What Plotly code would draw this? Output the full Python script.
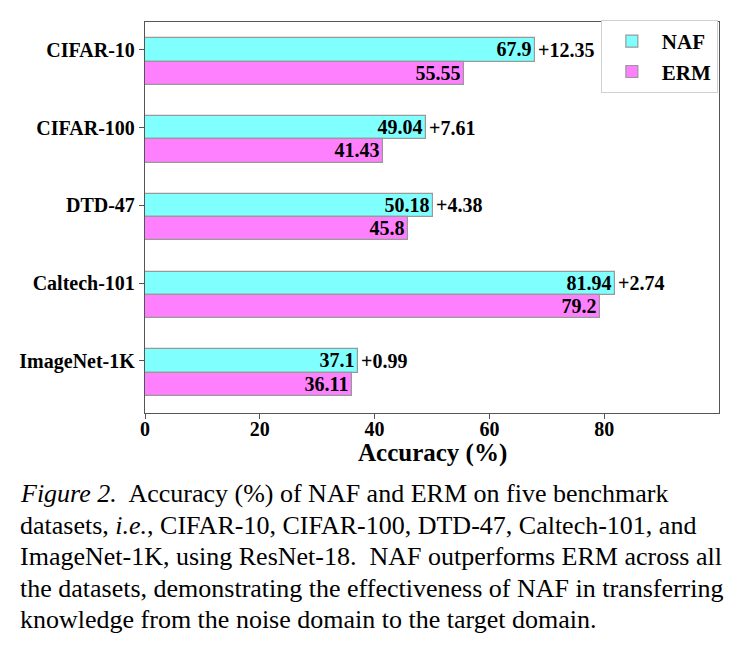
import plotly.graph_objects as go

categories = ["CIFAR-10", "CIFAR-100", "DTD-47", "Caltech-101", "ImageNet-1K"]
naf = [67.9, 49.04, 50.18, 81.94, 37.1]
erm = [55.55, 41.43, 45.8, 79.2, 36.11]
x_ticks = [0, 20, 40, 60, 80]
caption_lines = [
    "<i>Figure 2.</i>  Accuracy (%) of NAF and ERM on five benchmark",
    "datasets, <i>i.e.</i>, CIFAR-10, CIFAR-100, DTD-47, Caltech-101, and",
    "ImageNet-1K, using ResNet-18.  NAF outperforms ERM across all",
    "the datasets, demonstrating the effectiveness of NAF in transferring",
    "knowledge from the noise domain to the target domain.",
]

BAR_H = 0.3
n = len(categories)
pos = [n - 1 - i for i in range(n)]
pos_erm = [p - BAR_H for p in pos]
diffs = [round(a - b, 2) for a, b in zip(naf, erm)]

SERIF = "Liberation Serif"
LBL = dict(family=SERIF, size=20, color="black")
fig = go.Figure()
fig.add_trace(go.Bar(
    y=pos, x=naf, orientation="h", width=BAR_H, name="<b>NAF</b>",
    marker=dict(color="#80FFFF", line=dict(color="#999999", width=1.2)),
    text=[f"<b>{v:g}</b>" for v in naf], textposition="inside",
    insidetextanchor="end", textangle=0, constraintext="none",
    textfont=LBL,
))
fig.add_trace(go.Bar(
    y=pos_erm, x=erm, orientation="h", width=BAR_H, name="<b>ERM</b>",
    marker=dict(color="#FF80FF", line=dict(color="#999999", width=1.2)),
    text=[f"<b>{v:g}</b>" for v in erm], textposition="inside",
    insidetextanchor="end", textangle=0, constraintext="none",
    textfont=LBL,
))

for p, v, d in zip(pos, naf, diffs):
    fig.add_annotation(x=v, y=p, xref="x", yref="y", text=f"<b>+{d:g}</b>",
                       showarrow=False, xanchor="left", yanchor="middle", xshift=1,
                       font=LBL)

plot_left, plot_right = 145, 719
plot_top, plot_bottom = 22, 413
W = plot_right - plot_left
H = plot_bottom - plot_top

fig.add_annotation(x=(432 - plot_left) / W, y=(plot_bottom - 453) / H, xref="paper", yref="paper",
                   text="<b>Accuracy (%)</b>", showarrow=False, xanchor="center", yanchor="middle",
                   font=dict(family=SERIF, size=25, color="black"))

line_y = [493, 525, 556, 588, 619]
for txt, py in zip(caption_lines, line_y):
    fig.add_annotation(x=(18 - plot_left) / W, y=(plot_bottom - py) / H, xref="paper", yref="paper",
                       text=txt, showarrow=False, xanchor="left", yanchor="middle",
                       font=dict(family=SERIF, size=26, color="black"))

fig.update_layout(
    width=738, height=647,
    margin=dict(l=plot_left, r=738 - plot_right, t=plot_top, b=647 - plot_bottom),
    paper_bgcolor="white", plot_bgcolor="white",
    barmode="overlay", bargap=0,
    font=dict(family=SERIF, color="black"),
    showlegend=True,
    legend=dict(x=0.998, y=1.005, xanchor="right", yanchor="top",
                bordercolor="#d0d0d0", borderwidth=1, bgcolor="white",
                font=dict(family=SERIF, size=21, color="black"),
                itemwidth=50, tracegroupgap=2),
    xaxis=dict(range=[0, 100], tickvals=x_ticks, ticktext=[f"<b>{t}</b>" for t in x_ticks],
               ticks="outside", ticklen=5, tickcolor="#555", showgrid=False, zeroline=False,
               showline=True, linecolor="#555", linewidth=1.3, mirror=True,
               ticklabelstandoff=-7,
               tickfont=dict(family=SERIF, size=20, color="black")),
    yaxis=dict(range=[-0.67, 4.36], tickvals=pos, ticktext=[f"<b>{c}</b>" for c in categories],
               ticks="outside", ticklen=5, tickcolor="#555", showgrid=False, zeroline=False,
               showline=True, linecolor="#555", linewidth=1.3, mirror=True,
               tickfont=dict(family=SERIF, size=20, color="black")),
)

fig.write_html("out.html")
